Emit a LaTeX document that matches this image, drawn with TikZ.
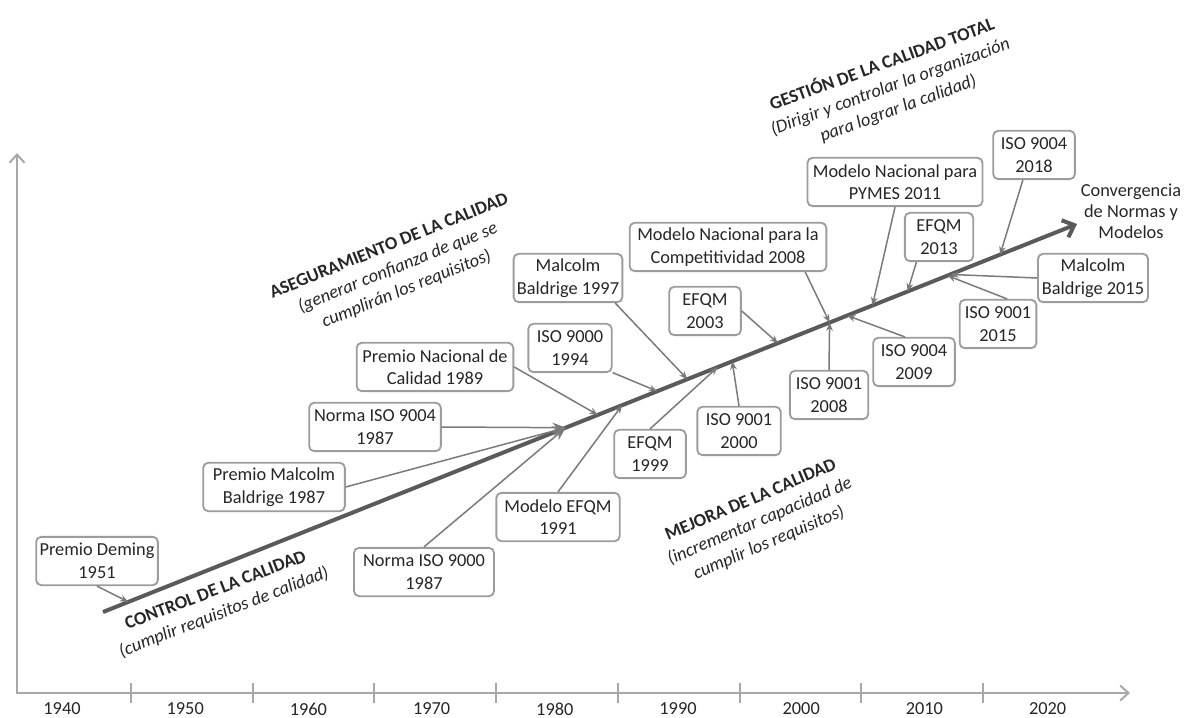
\documentclass[tikz,border=0pt]{standalone}
\usepackage{fontspec}
\setmainfont{Carlito}
\usepackage{xcolor}
\usetikzlibrary{arrows.meta,positioning}

\definecolor{lineagris}{HTML}{7A7A7A}
\definecolor{bordegris}{HTML}{9C9C9C}
\definecolor{ejegris}{HTML}{A8A8A8}
\definecolor{tendgris}{HTML}{5A5A5A}
\definecolor{textogris}{HTML}{262626}

\begin{document}
\begin{tikzpicture}[
  x=0.6pt, y=-0.6pt,
  hito/.style={draw=bordegris, line width=1.1pt, rounded corners=3pt, fill=white, align=center,
    inner xsep=2pt, inner ysep=1pt, minimum height=29pt, font=\fontsize{11}{13.5}\selectfont, text=textogris},
  etapa/.style={align=center, font=\fontsize{11}{14}\selectfont, text=textogris},
  anio/.style={font=\fontsize{11}{13}\selectfont, text=textogris},
  flecha/.style={draw=lineagris, line width=0.9pt, -{Stealth[length=5pt,width=4pt]}},
  flechagrande/.style={flecha, -{Stealth[length=8pt,width=6pt]}},
  eje/.style={draw=ejegris, line width=1.2pt},
  tendencia/.style={draw=tendgris, line width=2.4pt, -{Straight Barb[length=6pt,width=11pt]}},
]
\useasboundingbox (0,0) rectangle (1184,718);

% Axes
\coordinate (origen) at (17,693);
\coordinate (ytope) at (17,153);
\coordinate (xfin) at (1130,693);
\draw[eje, {Straight Barb[length=5pt,width=9pt]}-{Straight Barb[length=5pt,width=9pt]}] (ytope) -- (origen) -- (xfin);
\foreach \k in {0,...,7}
  \draw[eje] ({131+121.7*\k},683) -- ({131+121.7*\k},703);
\foreach \k/\anio in {0/1940,1/1950,2/1960,3/1970,4/1980,5/1990,6/2000,7/2010,8/2020}
  \node[anio] (a\anio) at ({62+123.2*\k},709) {\anio};

% Trend line
\coordinate (ini) at (103,612);
\coordinate (fin) at (1077,224);
\draw[tendencia] (ini) -- (fin)
  coordinate[pos=0.026] (t1951)
  coordinate[pos=0.475] (t1987)
  coordinate[pos=0.508] (t1989)
  coordinate[pos=0.533] (t1991)
  coordinate[pos=0.569] (t1994)
  coordinate[pos=0.600] (t1997)
  coordinate[pos=0.631] (t1999)
  coordinate[pos=0.646] (t2000)
  coordinate[pos=0.693] (t2003)
  coordinate[pos=0.746] (t2008)
  coordinate[pos=0.764] (t2009)
  coordinate[pos=0.790] (t2011)
  coordinate[pos=0.826] (t2013)
  coordinate[pos=0.867] (t2015)
  coordinate[pos=0.870] (t2015b)
  coordinate[pos=0.921] (t2018);
\node[etapa, font=\fontsize{11}{12.5}\selectfont] (converge) at (1131,211) {Convergencia\\de Normas y\\Modelos};

% Stages
\node[etapa, rotate=21] (control) at (220,602) {\textbf{CONTROL DE LA CALIDAD}\\\textit{(cumplir requisitos de calidad)}};
\node[etapa, rotate=22] (asegura) at (398,268) {\textbf{ASEGURAMIENTO DE LA CALIDAD}\\\textit{(generar confianza de que se}\\\textit{cumplirán los requisitos)}};
\node[etapa, rotate=23] (mejora) at (760,522) {\textbf{MEJORA DE LA CALIDAD}\\\textit{(incrementar capacidad de}\\\textit{cumplir los requisitos)}};
\node[etapa, rotate=20] (gestion) at (890,86) {\textbf{GESTIÓN DE LA CALIDAD TOTAL}\\\textit{(Dirigir y controlar la organización}\\\textit{para lograr la calidad)}};

% Milestones
\node[hito, minimum width=73pt] (deming) at (97,561) {Premio Deming\\1951};
\node[hito, minimum width=85pt] (mb87) at (274,487) {Premio Malcolm\\Baldrige 1987};
\node[hito, minimum width=79pt] (iso9004a) at (375,427) {Norma ISO 9004\\1987};
\node[hito, minimum width=94pt] (pnc89) at (435,367) {Premio Nacional de\\Calidad 1989};
\node[hito, minimum width=84pt] (iso9000a) at (424,572) {Norma ISO 9000\\1987};
\node[hito, minimum width=74pt] (efqm91) at (558,517) {Modelo EFQM\\1991};
\node[hito, minimum width=65pt] (mb97) at (568,278) {Malcolm\\Baldrige 1997};
\node[hito, minimum width=50pt] (iso94) at (570,348) {ISO 9000\\1994};
\node[hito, minimum width=43pt] (efqm99) at (650,454) {EFQM\\1999};
\node[hito, minimum width=50pt] (iso00) at (739,431) {ISO 9001\\2000};
\node[hito, minimum width=43pt] (efqm03) at (705,311) {EFQM\\2003};
\node[hito, minimum width=118pt] (mnc08) at (728,247) {Modelo Nacional para la\\Competitividad 2008};
\node[hito, minimum width=47pt] (iso08) at (829,395) {ISO 9001\\2008};
\node[hito, minimum width=49pt] (iso09) at (914,362) {ISO 9004\\2009};
\node[hito, minimum width=105pt] (pymes11) at (895,182) {Modelo Nacional para\\PYMES 2011};
\node[hito, minimum width=41pt] (efqm13) at (939,237) {EFQM\\2013};
\node[hito, minimum width=46pt] (iso15) at (998,324) {ISO 9001\\2015};
\node[hito, minimum width=66pt] (mb15) at (1093,278) {Malcolm\\Baldrige 2015};
\node[hito, minimum width=49pt] (iso18) at (1034,155) {ISO 9004\\2018};

% Connectors to the trend line
\draw[flecha] (deming.south) -- (t1951);
\draw[flechagrande] (mb87.east) -- (t1987);
\draw[flechagrande] (iso9004a.east) -- (t1987);
\draw[flechagrande] (iso9000a.north) -- (t1987);
\draw[flecha] (pnc89.east) -- (t1989);
\draw[flecha] (efqm91.north) -- (t1991);
\draw[flecha] (iso94.-30) -- (t1994);
\draw[flecha] (mb97.-28) -- (t1997);
\draw[flecha] (efqm99.north) -- (t1999);
\draw[flecha] (iso00.north) -- (t2000);
\draw[flecha] (efqm03.east) -- (t2003);
\draw[flecha] (mnc08.-18) -- (t2008);
\draw[flecha] (iso08.north) -- (t2008);
\draw[flecha] (iso09.110) -- (t2009);
\draw[flecha] (pymes11.south) -- (t2011);
\draw[flecha] (efqm13.-132) -- (t2013);
\draw[flecha] (iso15.70) -- (t2015);
\draw[flecha] (mb15.west) -- (t2015b);
\draw[flecha] (iso18.-114) -- (t2018);
\end{tikzpicture}
\end{document}
